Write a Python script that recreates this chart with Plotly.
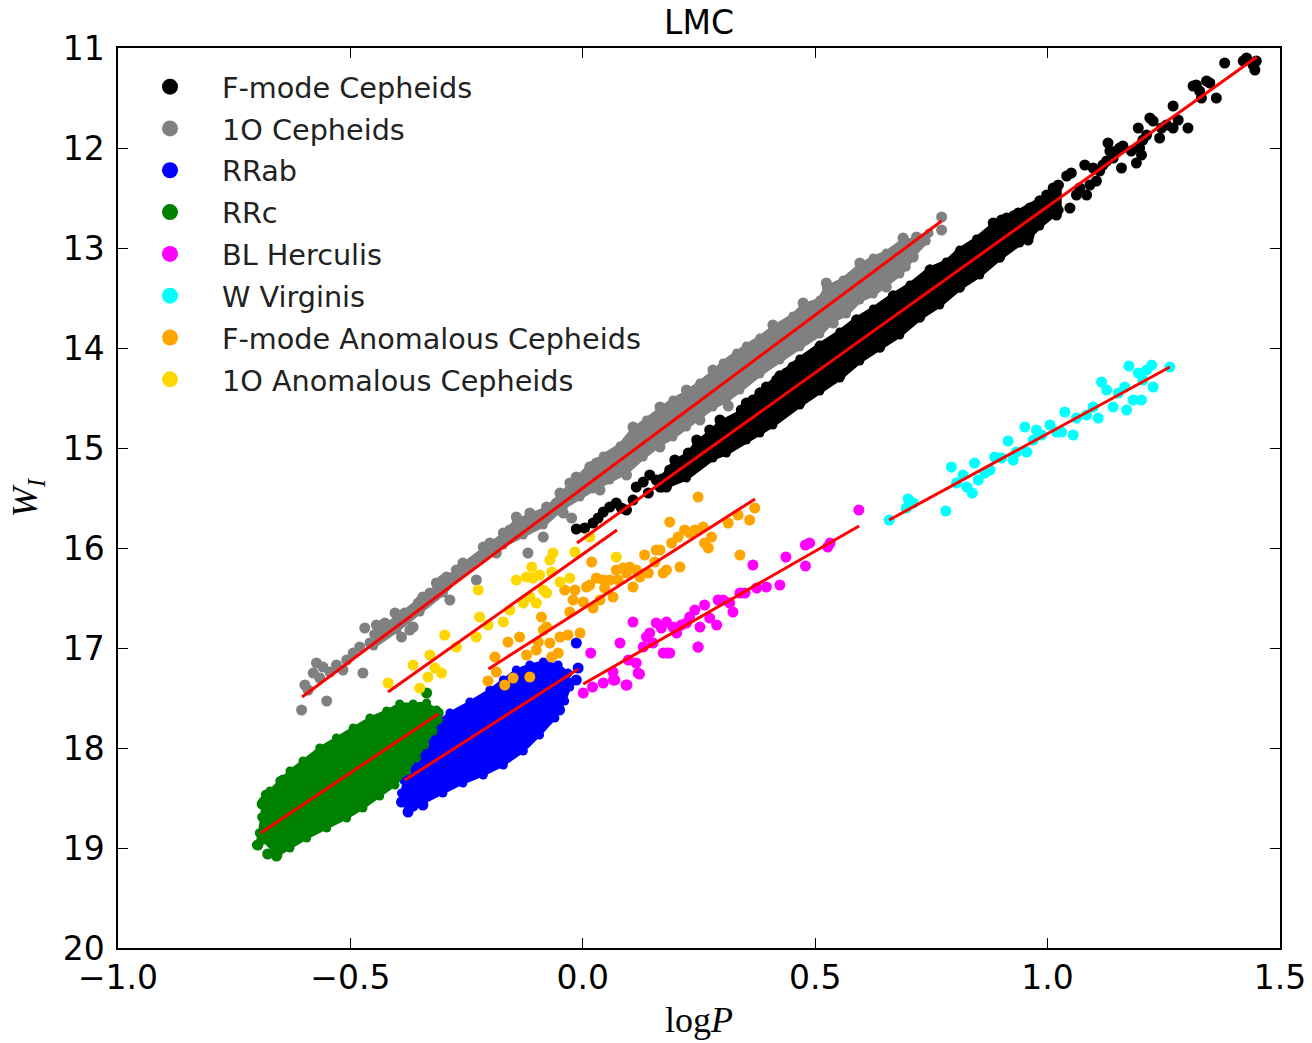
import plotly.graph_objects as go

# ---------------- data (logP, W_I) ----------------
# F-mode Cepheids: individual points
fmode_logp = [-0.014, 0.004, 0.022, 0.033, 0.044, 0.058, 0.072, 0.083, 0.094, 0.108, 0.115, 0.130,
              0.141, 0.144, 0.158, 0.166, 0.180, 0.187, 0.198, 0.205, 0.216, 0.227, 0.245, 0.252,
              0.266, 0.273, 0.295, 0.302, 0.309, 0.316, 0.331, 0.341, 0.352, 0.366, 0.381, 0.395,
              0.417, 0.438, 0.452,
              0.424, 0.510, 0.589, 0.668, 0.747, 0.811, 0.467, 0.553, 0.639, 0.725, 0.811, 0.897,
              0.883, 0.901, 0.912, 0.937, 0.958, 0.962, 0.983, 0.998, 1.012, 1.019, 1.023, 1.041,
              1.048, 1.051, 1.062, 1.069, 1.080, 1.084, 1.091, 1.098, 1.105, 1.112, 1.119, 1.127,
              1.130, 1.134, 1.141, 1.148, 1.155, 1.162, 1.159, 1.180, 1.191, 1.198, 1.195, 1.202,
              1.205, 1.213, 1.220, 1.227, 1.241, 1.245, 1.256, 1.270, 1.270, 1.281, 1.302, 1.313,
              1.320, 1.327, 1.331, 1.342, 1.349, 1.363, 1.381, 1.421, 1.428, 1.442, 1.446, 1.449]
fmode_w = [15.81, 15.80, 15.75, 15.70, 15.64, 15.59, 15.55, 15.60, 15.62, 15.52, 15.39, 15.34,
           15.45, 15.27, 15.32, 15.39, 15.39, 15.22, 15.12, 15.25, 15.15, 15.05, 14.92, 15.05,
           14.95, 14.82, 14.72, 15.02, 14.95, 14.79, 14.75, 14.62, 14.55, 14.52, 14.45, 14.39,
           14.32, 14.25, 14.19,
           14.28, 13.99, 13.72, 13.48, 13.22, 13.05, 14.55, 14.28, 13.99, 13.69, 13.39, 13.09,
           12.75, 12.72, 12.70, 12.65, 12.92, 12.60, 12.53, 12.47, 12.40, 12.67, 12.37, 12.28,
           12.60, 12.25, 12.47, 12.40, 12.17, 12.47, 12.37, 12.20, 12.33, 12.23, 12.17, 12.13,
           11.95, 12.03, 12.10, 12.03, 12.00, 11.98, 12.20, 12.03, 12.15, 12.00, 11.80, 12.07,
           11.92, 11.87, 11.70, 11.73, 11.90, 11.80, 11.77, 11.58, 11.80, 11.72, 11.80, 11.38,
           11.37, 11.43, 11.50, 11.33, 11.35, 11.50, 11.15, 11.13, 11.10, 11.17, 11.22, 11.13]
# F-mode Cepheids: outline of the dense band
fmode_band_logp = [0.170, 0.198, 0.227, 0.245, 0.273, 0.295, 0.341, 0.352, 0.381, 0.424, 0.467, 0.510,
                   0.553, 0.589, 0.625, 0.668, 0.704, 0.747, 0.782, 0.811, 0.847, 0.883, 0.926, 0.983,
                   1.025,
                   1.025, 0.983, 0.962, 0.940, 0.897, 0.854, 0.811, 0.768, 0.725, 0.682, 0.639, 0.596,
                   0.553, 0.510, 0.467, 0.409, 0.381, 0.352, 0.309, 0.280, 0.223, 0.170]
fmode_band_w = [15.30, 15.14, 15.06, 14.95, 14.85, 14.75, 14.64, 14.57, 14.44, 14.27, 14.11, 13.97,
                13.84, 13.71, 13.61, 13.47, 13.37, 13.21, 13.14, 13.02, 12.91, 12.77, 12.67, 12.52,
                12.37,
                12.62, 12.78, 12.88, 12.95, 13.10, 13.27, 13.40, 13.57, 13.70, 13.87, 14.00, 14.13,
                14.30, 14.43, 14.57, 14.77, 14.85, 14.92, 15.05, 15.10, 15.30, 15.40]

# 1O Cepheids
o1_logp = [-0.605, -0.551, -0.598, -0.591, -0.573, -0.559, -0.580, -0.566, -0.544, -0.530, -0.516,
           -0.508, -0.494, -0.480, -0.469, -0.458, -0.473, -0.444, -0.437, -0.426, -0.404, -0.390,
           -0.383, -0.372, -0.365, -0.354, -0.344, -0.329, -0.315, -0.301, -0.286, -0.293, -0.272,
           -0.258, -0.243, -0.229, -0.214, -0.200, -0.186, -0.171, -0.157, -0.143, -0.128, -0.118,
           -0.114, -0.100, -0.085, -0.078, -0.057, -0.049, -0.042, -0.028, -0.024, -0.014, 0.001,
           0.015, 0.029, 0.037,
           0.313, 0.772, 0.772, 0.409, 0.474, 0.524, 0.596, 0.689, 0.718, 0.539, 0.653, 0.711,
           0.108, 0.166, 0.223, 0.280, 0.094, 0.166, 0.252, 0.331]
o1_w = [17.62, 17.53, 17.37, 17.42, 17.15, 17.19, 17.25, 17.30, 17.24, 17.17, 17.22,
        17.12, 17.05, 16.99, 16.80, 16.95, 17.25, 16.77, 16.85, 16.75, 16.65, 16.89,
        16.65, 16.82, 16.79, 16.55, 16.49, 16.45, 16.35, 16.32, 16.52, 16.29, 16.22,
        16.15, 16.19, 16.32, 15.99, 15.95, 16.05, 15.85, 15.82, 15.69, 15.79, 16.05,
        15.65, 15.72, 15.89, 15.59, 15.55, 15.45, 15.65, 15.35, 15.70, 15.29, 15.32,
        15.19, 15.15, 15.42,
        14.58, 12.69, 12.82, 13.77, 13.55, 13.35, 13.15, 12.90, 12.89, 13.75, 13.39, 13.09,
        14.79, 14.59, 14.42, 14.22, 15.27, 14.99, 14.72, 14.39]
o1_band_logp = [-0.450, -0.400, -0.350, -0.300, -0.260, -0.214, -0.171, -0.143, -0.114, -0.078,
                -0.049, -0.028, -0.014, 0.015, 0.044,
                0.080, 0.108, 0.137, 0.166, 0.194, 0.223, 0.252, 0.280, 0.302, 0.331, 0.352, 0.381,
                0.409, 0.452, 0.474, 0.510, 0.524, 0.560, 0.596, 0.625, 0.653, 0.689, 0.718, 0.745,
                0.739, 0.711, 0.696, 0.682, 0.653, 0.625, 0.596, 0.567, 0.539, 0.510, 0.467, 0.424,
                0.381, 0.338, 0.309, 0.280, 0.252, 0.223, 0.194, 0.166, 0.130, 0.094, 0.058, 0.022,
                -0.006, -0.042, -0.085, -0.128, -0.171, -0.214, -0.260, -0.300, -0.350, -0.400,
                -0.450]
o1_band_w = [16.86, 16.70, 16.52, 16.34, 16.18, 16.02, 15.87, 15.73, 15.68, 15.61,
             15.48, 15.38, 15.31, 15.18, 15.08,
             14.98, 14.82, 14.72, 14.62, 14.52, 14.45, 14.35, 14.25, 14.15, 14.05, 13.98, 13.90,
             13.80, 13.68, 13.58, 13.52, 13.40, 13.32, 13.18, 13.10, 13.05, 12.93, 12.92, 12.85,
             12.93, 13.07, 13.19, 13.26, 13.36, 13.46, 13.52, 13.66, 13.72, 13.86, 13.99, 14.12,
             14.26, 14.42, 14.52, 14.59, 14.69, 14.79, 14.89, 14.96, 15.09, 15.24, 15.32, 15.41,
             15.49, 15.59, 15.77, 15.87, 15.97, 16.09, 16.25, 16.45, 16.64, 16.82,
             16.98]

# RRab
rrab_logp = [-0.014, -0.010, -0.014, -0.376, -0.390, -0.344, -0.383, -0.365, -0.030, -0.050]
rrab_w = [16.95, 17.20, 17.32, 18.64, 18.54, 18.57, 18.32, 18.58, 17.35, 17.62]
rrab_cloud_logp = [-0.390, -0.376, -0.344, -0.301, -0.258, -0.214, -0.171, -0.128, -0.093, -0.060,
                   -0.039, -0.028, -0.032, -0.053, -0.085, -0.114, -0.143, -0.171, -0.200, -0.243,
                   -0.286, -0.315, -0.336, -0.358, -0.372, -0.383, -0.390]
rrab_cloud_w = [18.54, 18.62, 18.55, 18.45, 18.35, 18.27, 18.17, 18.03, 17.87, 17.70,
                17.53, 17.39, 17.25, 17.17, 17.14, 17.17, 17.22, 17.32, 17.42, 17.54,
                17.65, 17.75, 17.89, 18.05, 18.19, 18.32, 18.45]

# RRc
rrc_logp = [-0.681, -0.645, -0.336, -0.311, -0.659, -0.699, -0.678, -0.690]
rrc_w = [18.47, 18.32, 17.45, 17.65, 19.08, 18.97, 19.06, 18.56]
rrc_cloud_logp = [-0.702, -0.688, -0.656, -0.630, -0.594, -0.551, -0.508, -0.473, -0.437, -0.404,
                  -0.379, -0.358, -0.340, -0.322, -0.311, -0.315, -0.336, -0.365, -0.394, -0.422,
                  -0.458, -0.494, -0.530, -0.566, -0.602, -0.630, -0.652, -0.673, -0.688, -0.691,
                  -0.696, -0.702]
rrc_cloud_w = [18.97, 18.92, 19.07, 19.00, 18.90, 18.80, 18.70, 18.60, 18.48, 18.37,
               18.23, 18.10, 17.97, 17.83, 17.72, 17.62, 17.55, 17.56, 17.56, 17.63,
               17.70, 17.80, 17.90, 18.00, 18.13, 18.23, 18.33, 18.43, 18.53, 18.69,
               18.85, 18.97]

# BL Herculis
blher_logp = [0.001, 0.017, 0.021, 0.044, 0.065, 0.069, 0.080, 0.093, 0.098, 0.108, 0.115, 0.119,
              0.130, 0.137, 0.144, 0.151, 0.158, 0.169, 0.173, 0.180, 0.187, 0.194, 0.202, 0.212,
              0.223, 0.230, 0.241, 0.248, 0.252, 0.262, 0.273, 0.288, 0.291, 0.302, 0.316, 0.323,
              0.338, 0.349, 0.366, 0.374, 0.395, 0.424, 0.437, 0.479, 0.488, 0.527, 0.532, 0.479,
              0.594, 0.066, 0.095, 0.122, 0.181, 0.248]
blher_w = [17.45, 17.05, 17.39, 17.35, 17.24, 17.32, 16.95, 17.37, 17.12, 16.74, 17.15, 17.25,
           16.99, 16.89, 16.85, 16.95, 16.75, 16.80, 17.05, 16.74, 17.05, 16.79, 16.85, 16.77,
           16.75, 16.69, 16.62, 16.99, 16.79, 16.57, 16.70, 16.77, 16.52, 16.52, 16.55, 16.64,
           16.45, 16.45, 16.17, 16.40, 16.39, 16.37, 16.09, 15.97, 15.95, 15.99, 15.95, 16.18,
           15.62, 17.32, 17.37, 17.26, 17.05, 16.99]

# W Virginis
wvir_logp = [0.659, 0.700, 0.711, 0.696, 0.781, 0.793, 0.804, 0.818, 0.826, 0.838, 0.843, 0.851,
             0.865, 0.876, 0.886, 0.901, 0.915, 0.926, 0.933, 0.951, 0.955, 0.969, 0.976, 0.987,
             1.005, 1.019, 1.030, 1.037, 1.055, 1.062, 1.084, 1.098, 1.109, 1.116, 1.127, 1.141,
             1.152, 1.166, 1.170, 1.175, 1.184, 1.195, 1.202, 1.205, 1.213, 1.224, 1.227, 1.263]
wvir_w = [15.72, 15.51, 15.55, 15.60, 15.63, 15.19, 15.35, 15.27, 15.39, 15.45, 15.15, 15.32,
          15.25, 15.22, 15.09, 15.10, 14.93, 15.12, 15.04, 14.79, 15.04, 14.92, 14.82, 14.87,
          14.77, 14.84, 14.84, 14.64, 14.87, 14.70, 14.67, 14.59, 14.70, 14.34, 14.42, 14.59,
          14.45, 14.39, 14.62, 14.18, 14.52, 14.25, 14.52, 14.32, 14.22, 14.17, 14.39, 14.19]

# F-mode Anomalous Cepheids
fac_logp = [-0.204, -0.189, -0.186, -0.168, -0.161, -0.150, -0.136, -0.121, -0.114, -0.100, -0.096,
            -0.089, -0.085, -0.078, -0.071, -0.067, -0.053, -0.049, -0.039, -0.032, -0.028, -0.021,
            -0.017, -0.006, 0.001, 0.008, 0.015, 0.019, 0.022, 0.029, 0.037, 0.044, 0.047, 0.058,
            0.065, 0.072, 0.076, 0.087, 0.094, 0.101, 0.108, 0.115, 0.123, 0.133, 0.141, 0.155,
            0.158, 0.166, 0.173, 0.180, 0.187, 0.191, 0.205, 0.209, 0.219, 0.230, 0.241, 0.248,
            0.259, 0.262, 0.270, 0.277, 0.313, 0.334, 0.338, 0.359, 0.370]
fac_w = [17.33, 17.09, 17.24, 17.37, 16.94, 17.30, 16.89, 17.07, 17.29, 17.02, 16.94,
         16.69, 16.82, 16.79, 16.95, 17.09, 17.05, 16.89, 16.42, 16.87, 16.64, 16.52,
         16.42, 16.85, 16.54, 16.39, 16.37, 16.14, 16.60, 16.30, 16.52, 16.32, 16.40, 16.32,
         16.49, 16.22, 16.32, 16.20, 16.25, 16.19, 16.39, 16.22, 16.29, 16.07, 16.25, 16.14,
         16.02, 16.02, 16.25, 16.22, 15.74, 15.95, 15.89, 16.19, 15.82, 15.85, 15.82, 15.49,
         15.79, 15.95, 16.00, 15.89, 15.75, 15.67, 16.07, 15.72, 15.60]

# 1O Anomalous Cepheids
oac_logp = [-0.419, -0.365, -0.351, -0.333, -0.329, -0.318, -0.304, -0.297, -0.272, -0.229, -0.225,
            -0.222, -0.204, -0.171, -0.157, -0.143, -0.128, -0.121, -0.114, -0.110, -0.107, -0.100,
            -0.093, -0.085, -0.078, -0.071, -0.067, -0.064, -0.049, -0.028, -0.017, 0.015, 0.072]
oac_w = [17.35, 17.17, 17.40, 17.29, 17.07, 17.20, 17.25, 16.87, 16.99, 16.89, 16.42,
         16.69, 16.77, 16.74, 16.62, 16.32, 16.55, 16.29, 16.49, 16.19, 16.30, 16.55,
         16.27, 16.42, 16.45, 16.12, 16.24, 16.05, 16.34, 16.30, 16.04, 15.89, 16.09]

# fitted P-L relations (segment end points)
fit_names = ["F-mode Cepheids", "1O Cepheids", "RRab", "RRc", "BL Herculis", "W Virginis",
             "F-mode Anomalous Cepheids", "1O Anomalous Cepheids"]
fit_logp = [[-0.0125, 1.450], [-0.604, 0.772], [-0.3825, -0.0097], [-0.693, -0.311],
            [0.001, 0.5945], [0.659, 1.263], [-0.203, 0.3705], [-0.419, 0.0736]]
fit_w = [[15.95, 11.09], [17.49, 12.73], [18.32, 17.21], [18.85, 17.66],
         [17.36, 15.78], [15.72, 14.19], [17.21, 15.51], [17.44, 15.82]]

# ---------------- figure ----------------
FONT = "DejaVu Sans"
SERIF = "Liberation Serif"
MS = 11

series = [
    ("F-mode Cepheids", "#000000", fmode_logp, fmode_w, fmode_band_logp, fmode_band_w, 5),
    ("1O Cepheids", "#808080", o1_logp, o1_w, o1_band_logp, o1_band_w, 5),
    ("RRab", "#0000ff", rrab_logp, rrab_w, rrab_cloud_logp, rrab_cloud_w, 3),
    ("RRc", "#008000", rrc_logp, rrc_w, rrc_cloud_logp, rrc_cloud_w, 3),
    ("BL Herculis", "#ff00ff", blher_logp, blher_w, None, None, 0),
    ("W Virginis", "#00ffff", wvir_logp, wvir_w, None, None, 0),
    ("F-mode Anomalous Cepheids", "#ffa500", fac_logp, fac_w, None, None, 0),
    ("1O Anomalous Cepheids", "#ffd700", oac_logp, oac_w, None, None, 0),
]

fig = go.Figure()
for name, color, xs, ys, px, py, lw in series:
    if px is not None:
        # dense core of the distribution, with its boundary stars drawn as dots
        fig.add_trace(go.Scatter(x=px, y=py, mode="lines+markers", fill="toself", fillcolor=color,
                                 line=dict(color=color, width=lw),
                                 marker=dict(color=color, size=9, line=dict(width=0)),
                                 showlegend=False, hoverinfo="skip"))
    fig.add_trace(go.Scatter(x=xs, y=ys, mode="markers", showlegend=False, name=name,
                             marker=dict(color=color, size=MS, line=dict(width=0))))

for i in range(len(fit_names)):
    fig.add_trace(go.Scatter(x=fit_logp[i], y=fit_w[i], mode="lines", showlegend=False,
                             line=dict(color="#ff0000", width=3), hoverinfo="skip"))

# legend entries
for name, color, *_ in series:
    fig.add_trace(go.Scatter(x=[None], y=[None], mode="markers", name=name, legendgroup=name,
                             marker=dict(color=color, size=16)))

axis_common = dict(showline=True, linecolor="black", linewidth=1.5, mirror="ticks",
                   ticks="inside", ticklen=10, tickwidth=1.2, tickcolor="black",
                   showgrid=False, zeroline=False, automargin=False,
                   tickfont=dict(family=FONT, size=33, color="black"))

fig.update_layout(
    width=1312, height=1043,
    margin=dict(l=118, r=32, t=48, b=95),
    paper_bgcolor="white", plot_bgcolor="white",
    title=dict(text="LMC", xref="paper", x=0.5, xanchor="center", y=1 - 22 / 1043,
               yanchor="middle", font=dict(family=FONT, size=33, color="black")),
    xaxis=dict(range=[-1.0, 1.5], dtick=0.5, tick0=0, tickformat=".1f",
               title=dict(text="log<i>P</i>", font=dict(family=SERIF, size=36, color="black"),
                          standoff=10),
               **axis_common),
    yaxis=dict(range=[20, 11], dtick=1, tick0=11, ticklabelstandoff=5,
               title=dict(text="<i>W</i><sub><i>I</i></sub>",
                          font=dict(family=SERIF, size=36, color="black"), standoff=14),
               **axis_common),
    legend=dict(x=0.0, y=0.985, xanchor="left", yanchor="top", bgcolor="rgba(0,0,0,0)",
                font=dict(family=FONT, size=28.7, color="#222222"), itemwidth=94,
                tracegroupgap=1.5, traceorder="grouped"),
    showlegend=True,
)

fig.write_html("out.html", config={"displayModeBar": False},
               post_script="document.body.style.margin='0';document.body.style.padding='0';"
                           "document.body.style.overflow='hidden';")
